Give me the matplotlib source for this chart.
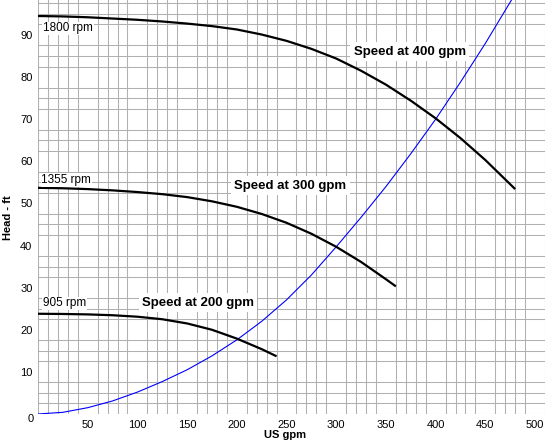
import matplotlib
matplotlib.use('Agg')
import matplotlib.pyplot as plt
from matplotlib.ticker import MultipleLocator

plt.rcParams['font.family'] = ['Liberation Sans', 'DejaVu Sans']

# pump curves at three speeds (US gpm, head ft)
gpm_1800 = [0, 25, 50, 75, 100, 125, 150, 175, 200, 225, 250, 275, 300, 325, 350, 375, 400, 425, 450, 480]
head_1800 = [94.5, 94.4, 94.2, 93.9, 93.6, 93.2, 92.7, 92.1, 91.3, 90.1, 88.6, 86.7, 84.4, 81.5, 78.2, 74.4, 70.2, 65.5, 60.3, 53.4]

gpm_1355 = [0, 25, 50, 75, 100, 125, 150, 175, 200, 225, 250, 275, 300, 325, 350, 360]
head_1355 = [53.7, 53.6, 53.4, 53.1, 52.7, 52.2, 51.5, 50.5, 49.2, 47.5, 45.4, 42.8, 39.7, 36.1, 32.0, 30.3]

gpm_905 = [0, 25, 50, 75, 100, 125, 150, 175, 200, 225, 240]
head_905 = [23.8, 23.75, 23.65, 23.45, 23.1, 22.5, 21.5, 20.0, 17.9, 15.4, 13.7]

# system curve
gpm_sys = [0, 25, 50, 75, 100, 125, 150, 175, 200, 225, 250, 275, 300, 325, 350, 375, 400, 425, 450, 475, 487]
head_sys = [0, 0.4, 1.5, 3.1, 5.2, 7.7, 10.5, 13.8, 17.6, 22.0, 27.1, 33.0, 39.7, 46.7, 54.0, 61.8, 70.0, 78.8, 88.0, 97.8, 102.5]

rpm_labels = ['1800 rpm', '1355 rpm', '905 rpm']
rpm_label_pos = [(5, 91.6), (3.5, 55.6), (5, 26.3)]
speed_labels = ['Speed at 400 gpm', 'Speed at 300 gpm', 'Speed at 200 gpm']
speed_label_pos = [(374, 86.0), (254, 54.2), (161, 26.4)]

x_ticks = [50, 100, 150, 200, 250, 300, 350, 400, 450, 500]
y_ticks = [10, 20, 30, 40, 50, 60, 70, 80, 90]

fig = plt.figure(figsize=(5.57, 4.47), dpi=100)
ax = fig.add_axes([38 / 557, 33 / 447, 507 / 557, 414 / 447])

ax.plot(gpm_sys, head_sys, color='#0000ff', lw=0.8, zorder=3)
for g, h in [(gpm_1800, head_1800), (gpm_1355, head_1355), (gpm_905, head_905)]:
    ax.plot(g, h, color='black', lw=1.6, zorder=4, solid_capstyle='butt', solid_joinstyle='round')

ax.set_xlim(0, 510)
ax.set_ylim(0, 98.3)

ax.xaxis.set_minor_locator(MultipleLocator(10))
ax.yaxis.set_minor_locator(MultipleLocator(2.5))
ax.set_xticks(x_ticks)
ax.set_yticks(y_ticks)
ax.grid(True, which='minor', color='#b0b0b0', lw=0.75)
ax.grid(False, which='major')
ax.set_axisbelow(True)
ax.tick_params(which='both', length=0, labelsize=8, pad=4)
for sp in ax.spines.values():
    sp.set_visible(False)

# the origin label sits a little below the axis, as in the source chart
ax.text(-0.008, 0, '0', transform=ax.get_yaxis_transform(), fontsize=8,
        ha='right', va='top', clip_on=False)

for txt, (x, y) in zip(rpm_labels, rpm_label_pos):
    ax.text(x, y, txt, fontsize=8.5, ha='left', va='center', zorder=5,
            bbox=dict(facecolor='white', edgecolor='none', pad=0.5))
for txt, (x, y) in zip(speed_labels, speed_label_pos):
    ax.text(x, y, txt, fontsize=9.5, fontweight='bold', ha='center', va='center', zorder=5,
            bbox=dict(facecolor='white', edgecolor='none', pad=2.5))

fig.text(285 / 557, 1 - 435 / 447, 'US gpm', fontsize=8, fontweight='bold', ha='center', va='center')
fig.text(8 / 557, 1 - 218 / 447, 'Head - ft', fontsize=8, fontweight='bold', ha='center', va='center', rotation=90)

fig.savefig('out.png', dpi=100)
